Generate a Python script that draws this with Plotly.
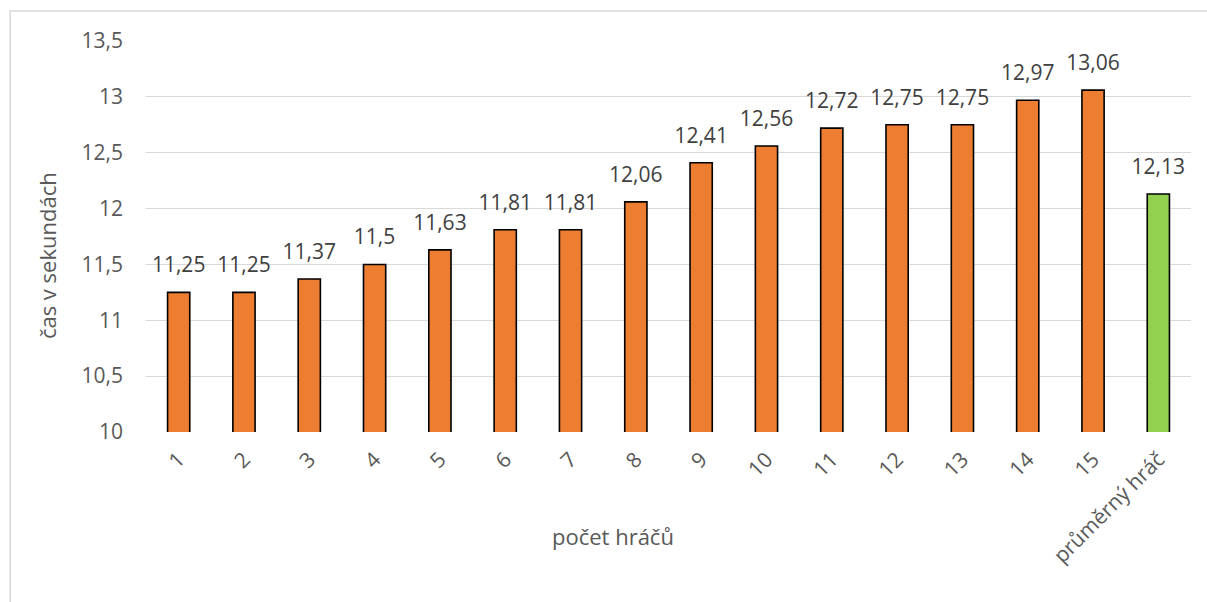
import plotly.graph_objects as go

categories = ["1", "2", "3", "4", "5", "6", "7", "8", "9", "10", "11", "12", "13", "14", "15", "průměrný hráč"]
times = [11.25, 11.25, 11.37, 11.5, 11.63, 11.81, 11.81, 12.06, 12.41, 12.56, 12.72, 12.75, 12.75, 12.97, 13.06, 12.13]
y_ticks = [10, 10.5, 11, 11.5, 12, 12.5, 13, 13.5]
y_tick_labels = ["10", "10,5", "11", "11,5", "12", "12,5", "13", "13,5"]

ORANGE = "#ED7D31"
GREEN = "#92D050"
colors = [ORANGE] * (len(categories) - 1) + [GREEN]
labels = [f"{v:g}".replace(".", ",") for v in times]

FONT = "Open Sans, Liberation Sans, sans-serif"
FS_TICK = 21
FS_LABEL = 21
FS_TITLE = 22

fig = go.Figure()
fig.add_trace(
    go.Bar(
        x=categories,
        y=times,
        marker=dict(color=colors, line=dict(color="#000000", width=1.6)),
        width=0.34,
        hoverinfo="x+y",
    )
)
# value labels above each bar
fig.add_trace(
    go.Scatter(
        x=categories,
        y=times,
        mode="markers+text",
        text=labels,
        textposition="top center",
        marker=dict(size=22, opacity=0),
        textfont=dict(family=FONT, size=FS_LABEL, color="#404040"),
        cliponaxis=False,
        hoverinfo="skip",
    )
)

fig.update_layout(
    width=1207,
    height=602,
    margin=dict(l=146, r=16, t=41, b=170),
    paper_bgcolor="white",
    plot_bgcolor="white",
    showlegend=False,
    font=dict(family=FONT, color="#595959"),
    xaxis=dict(
        type="category",
        range=[-0.5, len(categories) - 0.5],
        tickangle=-45,
        tickfont=dict(family=FONT, size=FS_TICK, color="#595959"),
        showgrid=False,
        showline=False,
        ticks="",
        ticklabelstandoff=10,
    ),
    yaxis=dict(
        range=[10, 13.5],
        tickvals=y_ticks,
        ticktext=y_tick_labels,
        tickfont=dict(family=FONT, size=FS_TICK, color="#595959"),
        showgrid=True,
        gridcolor="#D9D9D9",
        gridwidth=1,
        zeroline=False,
        showline=False,
        ticks="",
        ticklabelstandoff=22,
    ),
    annotations=[
        dict(
            text="počet hráčů", xref="paper", yref="paper", x=0.447, y=-0.266,
            showarrow=False, font=dict(family=FONT, size=FS_TITLE, color="#595959"),
            xanchor="center", yanchor="middle",
        ),
        dict(
            text="čas v sekundách", xref="paper", yref="paper", x=-0.0947, y=0.45,
            showarrow=False, textangle=-90, font=dict(family=FONT, size=FS_TITLE, color="#595959"),
            xanchor="center", yanchor="middle",
        ),
    ],
    shapes=[
        dict(
            type="rect", xref="paper", yref="paper",
            x0=-0.130, x1=1.1, y0=-0.5, y1=1.0767,
            line=dict(color="#D9D9D9", width=1.5), fillcolor="rgba(0,0,0,0)", layer="below",
        ),
    ],
)

fig.write_html("out.html")
